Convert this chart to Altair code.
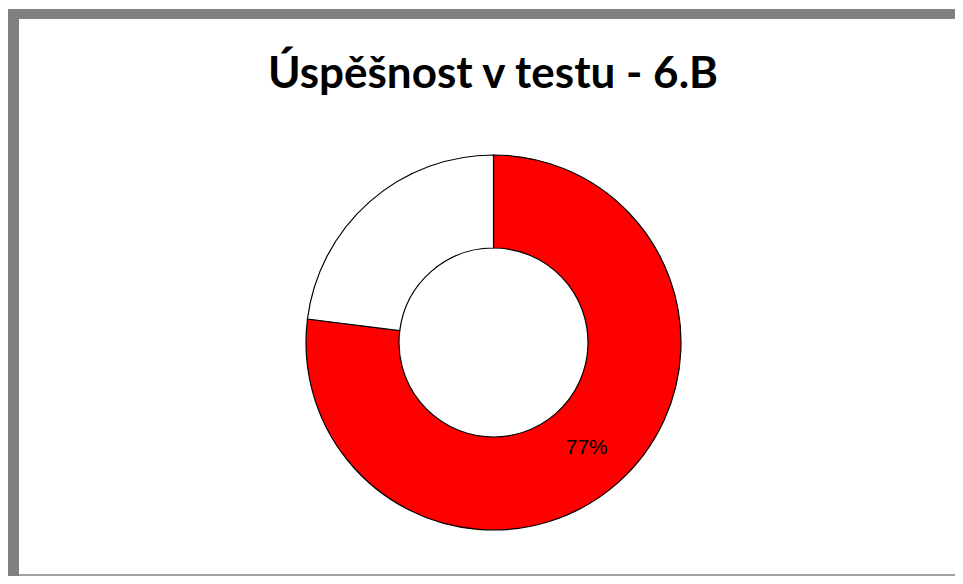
import altair as alt
import pandas as pd

title_text = "Úspěšnost v testu - 6.B"
categories = ["úspěšnost", "zbytek"]
values = [77, 23]
labels = ["77%", ""]
colors = ["#FF0000", "#FFFFFF"]

df = pd.DataFrame({"cat": categories, "value": values, "label": labels, "order": [0, 1]})

W, H = 947, 568
CX, CY = 485.5, 334.5

theta = alt.Theta("value:Q", stack=True)
order = alt.Order("order:Q")

arcs = alt.Chart(df).mark_arc(
    outerRadius=187.5, innerRadius=94.5, stroke="black", strokeWidth=1.2
).encode(
    theta=theta,
    order=order,
    color=alt.Color("cat:N", scale=alt.Scale(domain=categories, range=colors), legend=None),
    x=alt.value(CX), y=alt.value(CY),
)

text = alt.Chart(df).mark_text(
    radius=141, font="Liberation Sans", fontSize=21, color="black", baseline="middle", align="center"
).encode(
    theta=theta,
    order=order,
    text="label:N",
    x=alt.value(CX), y=alt.value(CY),
)

title = alt.Chart(pd.DataFrame({"t": [title_text]})).mark_text(
    font="Liberation Sans Narrow, Lato", fontWeight="bold", fontSize=44, color="black",
    align="center", baseline="alphabetic"
).encode(text="t:N", x=alt.value(485), y=alt.value(80))

one = pd.DataFrame({"a": [0]})
top_border = alt.Chart(one).mark_rect(color="#808080").encode(
    x=alt.value(0), x2=alt.value(W), y=alt.value(1), y2=alt.value(11))
left_border = alt.Chart(one).mark_rect(color="#808080").encode(
    x=alt.value(0), x2=alt.value(11), y=alt.value(1), y2=alt.value(H))
bottom_line = alt.Chart(one).mark_rect(color="#A0A0A0").encode(
    x=alt.value(11), x2=alt.value(W), y=alt.value(H - 2), y2=alt.value(H))

chart = alt.layer(top_border, left_border, bottom_line, arcs, text, title).properties(
    width=W, height=H, padding=0, autosize=alt.AutoSizeParams(type="none"),
    background="white"
).configure_view(stroke=None)

chart.save("out.html", embed_options={"renderer": "svg", "actions": False})
